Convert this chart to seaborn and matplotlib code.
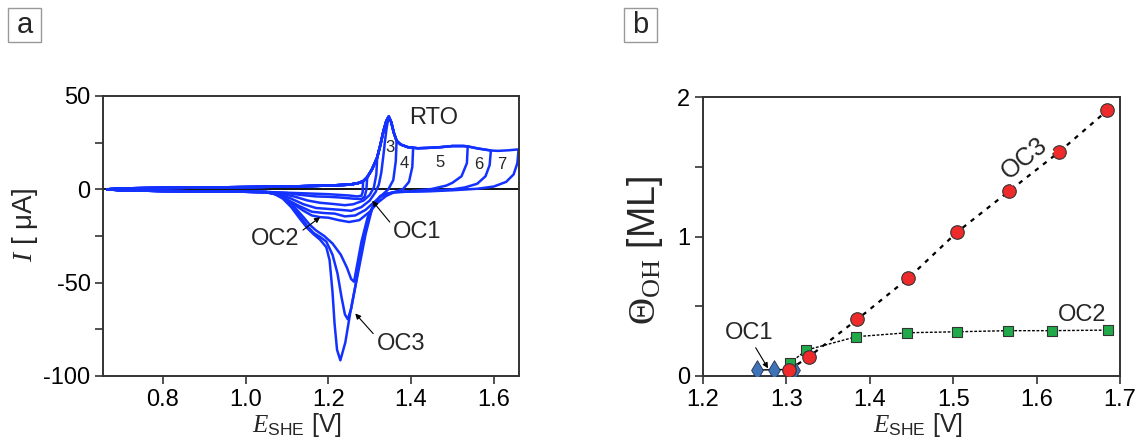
import numpy as np
import pandas as pd
import matplotlib
matplotlib.use("Agg")
import matplotlib.pyplot as plt
from matplotlib.patches import Rectangle
import seaborn as sns

# ---------------- data: (a) cyclic voltammograms ----------------
# common anodic sweep (E in V, I in uA)
anodic_E = [0.665, 0.70, 0.80, 0.90, 1.00, 1.10, 1.20, 1.25, 1.27, 1.284, 1.294, 1.305,
            1.318, 1.326, 1.333, 1.340, 1.346, 1.352, 1.358, 1.365, 1.375, 1.392, 1.405,
            1.416, 1.44, 1.472, 1.50, 1.527, 1.537, 1.561, 1.593, 1.61, 1.635, 1.66]
anodic_I = [0.0, 0.5, 0.8, 1.0, 1.2, 1.5, 2.0, 2.5, 3.2, 4.3, 6.5, 10.5,
            17.0, 24.0, 31.0, 36.5, 39.0, 36.0, 30.5, 26.0, 24.0, 22.6, 22.3,
            22.0, 22.2, 22.6, 23.2, 23.2, 23.0, 21.9, 20.8, 20.6, 20.9, 21.4]

# upper potential limits of the individual scans
upper_limits = [1.284, 1.294, 1.318, 1.346, 1.365, 1.405, 1.537, 1.593, 1.66]

# cathodic sweeps, from each upper limit down to 1.05 V
cath1_E = [1.284, 1.283, 1.280, 1.270, 1.250, 1.20, 1.15, 1.10, 1.05]
cath1_I = [4.3, -1.5, -3.4, -3.8, -3.3, -2.6, -2.2, -1.8, -1.4]

cath2_E = [1.294, 1.292, 1.288, 1.280, 1.260, 1.230, 1.20, 1.17, 1.13, 1.10, 1.05]
cath2_I = [6.5, 0.0, -3.8, -5.2, -5.0, -4.4, -4.0, -3.8, -2.9, -2.0, -1.4]

cath3_E = [1.318, 1.316, 1.310, 1.300, 1.285, 1.260, 1.240, 1.210, 1.180, 1.150, 1.120,
           1.090, 1.05]
cath3_I = [17.0, 8.0, 1.0, -3.0, -6.0, -8.0, -8.5, -7.8, -7.2, -6.0, -4.0,
           -2.5, -1.5]

cath4_E = [1.346, 1.341, 1.337, 1.333, 1.328, 1.322, 1.314, 1.300, 1.280, 1.255, 1.230,
           1.200, 1.170, 1.140, 1.110, 1.080, 1.05]
cath4_I = [39.0, 33.0, 26.0, 18.0, 9.0, 2.5, -1.5, -6.0, -9.5, -11.5, -11.0,
           -10.5, -10.0, -8.0, -5.0, -2.5, -1.5]

cath5_E = [1.365, 1.363, 1.357, 1.345, 1.330, 1.310, 1.290, 1.265, 1.240, 1.215, 1.190,
           1.160, 1.130, 1.100, 1.075, 1.05]
cath5_I = [26.0, 15.0, 5.0, 0.0, -3.0, -7.0, -11.0, -14.0, -14.5, -13.0, -12.7,
           -12.0, -9.0, -5.5, -2.5, -1.5]

cath6_E = [1.405, 1.403, 1.395, 1.380, 1.360, 1.340, 1.320, 1.300, 1.275, 1.250, 1.225,
           1.200, 1.180, 1.160, 1.140, 1.110, 1.080, 1.05]
cath6_I = [22.3, 12.0, 4.0, 0.0, -1.5, -3.5, -7.0, -12.0, -16.5, -17.5, -16.5,
           -15.2, -14.9, -14.0, -11.5, -7.0, -3.0, -1.5]

cath7_E = [1.537, 1.535, 1.522, 1.500, 1.485, 1.450, 1.400, 1.360, 1.340, 1.325, 1.310,
           1.295, 1.280, 1.270, 1.262, 1.255, 1.245, 1.230, 1.210, 1.190, 1.170, 1.155,
           1.140, 1.120, 1.100, 1.080, 1.05]
cath7_I = [23.0, 14.0, 7.0, 3.5, 2.0, 0.2, -1.0, -1.5, -2.5, -4.0, -8.0,
           -15.0, -28.0, -40.0, -49.5, -48.0, -42.0, -35.0, -29.0, -25.0, -22.0, -19.0,
           -15.0, -10.0, -6.0, -3.0, -1.5]

cath8_E = [1.593, 1.590, 1.580, 1.560, 1.530, 1.500, 1.450, 1.400, 1.360, 1.340, 1.325,
           1.310, 1.295, 1.280, 1.265, 1.255, 1.247, 1.240, 1.232, 1.222, 1.210, 1.195,
           1.180, 1.165, 1.150, 1.130, 1.110, 1.090, 1.070, 1.05]
cath8_I = [20.8, 13.0, 7.0, 3.0, 1.0, 0.0, -0.8, -1.2, -1.5, -2.5, -4.0,
           -8.0, -17.0, -32.0, -52.0, -64.0, -69.6, -67.0, -58.0, -45.0, -35.0, -28.0,
           -25.5, -23.5, -20.0, -14.0, -8.5, -4.5, -2.5, -1.5]

cath9_E = [1.660, 1.657, 1.648, 1.630, 1.600, 1.560, 1.500, 1.450, 1.400, 1.360, 1.340,
           1.326, 1.306, 1.290, 1.270, 1.253, 1.241, 1.229, 1.221, 1.215, 1.210, 1.203,
           1.195, 1.180, 1.164, 1.150, 1.132, 1.110, 1.090, 1.070, 1.05]
cath9_I = [21.4, 14.0, 8.0, 4.0, 1.5, 0.3, -0.5, -1.0, -1.2, -1.5, -2.5,
           -3.5, -10.0, -24.0, -46.8, -66.0, -82.0, -91.6, -86.0, -72.0, -55.0, -38.0,
           -31.0, -27.0, -24.0, -21.0, -16.0, -9.5, -5.0, -2.5, -1.5]

# common low-potential end of the cathodic sweep
tail_E = [1.00, 0.90, 0.80, 0.70, 0.665]
tail_I = [-1.3, -1.1, -0.9, -0.5, 0.0]

cathodic = [(cath1_E, cath1_I), (cath2_E, cath2_I), (cath3_E, cath3_I),
            (cath4_E, cath4_I), (cath5_E, cath5_I), (cath6_E, cath6_I),
            (cath7_E, cath7_I), (cath8_E, cath8_I), (cath9_E, cath9_I)]

scan_numbers = ["3", "4", "5", "6", "7"]
scan_number_E = [1.350, 1.383, 1.471, 1.563, 1.619]
scan_number_I = [22.5, 13.6, 14.2, 13.1, 13.1]

# ---------------- data: (b) OH coverage ----------------
oc3_E = [1.303, 1.327, 1.385, 1.446, 1.505, 1.567, 1.627, 1.685]
oc3_theta = [0.043, 0.138, 0.406, 0.700, 1.033, 1.325, 1.606, 1.905]
oc2_E = [1.304, 1.324, 1.384, 1.445, 1.504, 1.566, 1.618, 1.686]
oc2_theta = [0.091, 0.186, 0.282, 0.310, 0.317, 0.325, 0.325, 0.329]
oc1_E = [1.265, 1.285, 1.309]
oc1_theta = [0.042, 0.046, 0.046]

# ---------------- assemble the voltammogram table ----------------
rows = []
anE = np.array(anodic_E)
anI = np.array(anodic_I)
for k, (Eup, (cE, cI)) in enumerate(zip(upper_limits, cathodic)):
    keep = anE < Eup - 1e-9
    E = list(anE[keep]) + list(cE) + tail_E
    I = list(anI[keep]) + list(cI) + tail_I
    for j, (e, i) in enumerate(zip(E, I)):
        rows.append({"scan": k + 1, "order": j, "E": e, "I": i})
cv = pd.DataFrame(rows)

# ---------------- style ----------------
sns.set_theme(style="ticks")
plt.rcParams["font.family"] = ["Liberation Sans", "DejaVu Sans"]
plt.rcParams["mathtext.fontset"] = "custom"
plt.rcParams["mathtext.rm"] = "Liberation Serif"
plt.rcParams["mathtext.it"] = "Liberation Serif:italic"
plt.rcParams["mathtext.sf"] = "Liberation Sans"
plt.rcParams["axes.unicode_minus"] = False
plt.rcParams["axes.edgecolor"] = "#333333"
plt.rcParams["axes.linewidth"] = 1.4
plt.rcParams["xtick.color"] = "#333333"
plt.rcParams["ytick.color"] = "#333333"
plt.rcParams["xtick.labelcolor"] = "black"
plt.rcParams["ytick.labelcolor"] = "black"

W, H = 1138, 441
fig = plt.figure(figsize=(W / 100, H / 100), dpi=100)
ax1 = fig.add_axes([103 / W, 1 - 376 / H, 416 / W, 280 / H])
ax2 = fig.add_axes([703 / W, 1 - 376 / H, 417 / W, 279 / H])

blue = "#1432ff"
arrow_kw = dict(arrowstyle="-|>", color="black", lw=0.8, mutation_scale=8,
                shrinkA=0, shrinkB=0)

# ---------------- panel a ----------------
ax1.axhline(0, color="black", lw=1.3, zorder=1)
sns.lineplot(data=cv, x="E", y="I", units="scan", estimator=None, sort=False,
             color=blue, lw=1.8, ax=ax1, zorder=2)
ax1.set_xlim(0.655, 1.661)
ax1.set_ylim(-100, 50)
ax1.set_xticks([0.8, 1.0, 1.2, 1.4, 1.6])
ax1.set_xticklabels(["0.8", "1.0", "1.2", "1.4", "1.6"])
ax1.set_yticks([-100, -50, 0, 50])
ax1.set_yticks([-75, -25, 25], minor=True)
ax1.tick_params(axis="both", which="major", length=6, width=1.2, labelsize=17, pad=3)
ax1.tick_params(axis="y", which="minor", length=6, width=1.2)
ax1.set_xlabel(r"$E_{\mathsf{SHE}}$ [V]", fontsize=18)
ax1.set_ylabel(r"$I$ [ μA]", fontsize=20)
ax1.xaxis.set_label_coords(0.466, -0.125)
ax1.yaxis.set_label_coords(-0.152, 0.54)

ax1.text(1.455, 38.2, "RTO", fontsize=17, ha="center", va="center")
for lab, e, i in zip(scan_numbers, scan_number_E, scan_number_I):
    ax1.text(e, i, lab, fontsize=12, ha="center", va="center")

ax1.annotate("OC1", xy=(1.306, -6.1), xytext=(1.415, -22.6), fontsize=17,
             ha="center", va="center", arrowprops=dict(**arrow_kw, relpos=(0.0, 0.75)))
ax1.annotate("OC2", xy=(1.180, -14.9), xytext=(1.072, -26.7), fontsize=17,
             ha="center", va="center", arrowprops=dict(**arrow_kw, relpos=(1.0, 0.8)))
ax1.annotate("OC3", xy=(1.265, -66.5), xytext=(1.375, -82.8), fontsize=17,
             ha="center", va="center", arrowprops=dict(**arrow_kw, relpos=(0.0, 0.8)))

# ---------------- panel b ----------------
sns.lineplot(x=oc3_E, y=oc3_theta, color="black", lw=1.6, ax=ax2, zorder=2,
             linestyle=(0, (2.0, 2.6)), sort=False)
sns.lineplot(x=oc2_E, y=oc2_theta, color="black", lw=1.0, ax=ax2, zorder=2,
             linestyle=(0, (2.0, 1.2)), sort=False)
sns.lineplot(x=oc1_E, y=oc1_theta, color="black", lw=1.0, ax=ax2, zorder=2, sort=False)
sns.scatterplot(x=oc1_E, y=oc1_theta, marker="d", s=100, color="#3f73b8",
                edgecolor="#1f3050", linewidth=0.6, ax=ax2, zorder=3)
sns.scatterplot(x=oc2_E, y=oc2_theta, marker="s", s=55, color="#22aa4a",
                edgecolor="#333333", linewidth=0.8, ax=ax2, zorder=4)
sns.scatterplot(x=oc3_E, y=oc3_theta, marker="o", s=95, color="#ee2a2a",
                edgecolor="#333333", linewidth=0.8, ax=ax2, zorder=5)

ax2.set_xlim(1.2, 1.7)
ax2.set_ylim(0, 2)
ax2.set_xticks([1.2, 1.3, 1.4, 1.5, 1.6, 1.7])
ax2.set_xticklabels(["1.2", "1.3", "1.4", "1.5", "1.6", "1.7"])
ax2.set_yticks([0, 1, 2])
ax2.set_yticklabels(["0", "1", "2"])
ax2.set_yticks([0.5, 1.5], minor=True)
ax2.tick_params(axis="both", which="major", length=6, width=1.2, labelsize=17, pad=3)
ax2.tick_params(axis="y", which="minor", length=6, width=1.2)
ax2.set_xlabel(r"$E_{\mathsf{SHE}}$ [V]", fontsize=18)
ax2.set_ylabel(r"$\Theta_{\mathrm{OH}}$ [ML]", fontsize=27)
ax2.xaxis.set_label_coords(0.516, -0.125)
ax2.yaxis.set_label_coords(-0.092, 0.45)

ax2.text(1.586, 1.56, "OC3", fontsize=18, rotation=39, ha="center", va="center",
         rotation_mode="anchor", zorder=6,
         bbox=dict(boxstyle="square,pad=0.05", fc="white", ec="none"))
ax2.text(1.654, 0.437, "OC2", fontsize=17, ha="center", va="center")
ax2.annotate("OC1", xy=(1.278, 0.055), xytext=(1.255, 0.305), fontsize=17,
             ha="center", va="center", arrowprops=dict(**arrow_kw, relpos=(0.6, 0.0)))

# ---------------- panel letters ----------------
for x0, letter in [(8, "a"), (624, "b")]:
    fig.patches.append(Rectangle((x0 / W, 1 - 42 / H), 33 / W, 34 / H,
                                 transform=fig.transFigure, fill=False,
                                 ec="#999999", lw=1.0))
    fig.text((x0 + 16.5) / W, 1 - 25 / H, letter, fontsize=21,
             ha="center", va="center")

fig.savefig("out.png", dpi=100)
